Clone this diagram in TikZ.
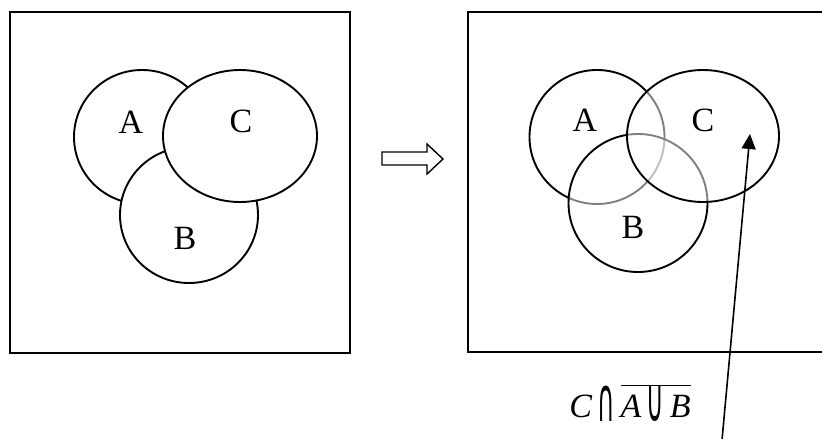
\documentclass[tikz,border=0pt]{standalone}
\usepackage{fontspec}
\setmainfont{Liberation Serif}
\newfontfamily\opfont{DejaVu Sans}
\usepackage{tikz}
\usetikzlibrary{shapes.geometric,arrows.meta}
\tikzset{
    setshape/.style={
        ellipse, draw, fill=white,
        inner sep=0pt, line width=1.9pt
    },
    setlabel/.style={
        font=\fontsize{34}{40}\selectfont, inner sep=0pt
    },
    frame/.style={
        draw, line width=1.8pt
    }
}
\newcommand{\tallcap}{\mathbin{\raisebox{-4pt}{\scalebox{0.7}[1.8]{\opfont ∩}}}}
\newcommand{\tallcup}{\mathbin{\raisebox{-4pt}{\scalebox{0.7}[1.8]{\opfont ∪}}}}

\begin{document}
\begin{tikzpicture}[x=1pt, y=-1pt]
    \useasboundingbox (0,0) rectangle (822,439);
    % Frames
    \draw[frame] (10,12) rectangle (350,353);
    \draw[frame] (468,12) rectangle (830,352);
    % Left diagram: sets drawn over one another
    \node[setshape, minimum width=136pt, minimum height=134pt] (la) at (142,137) {};
    \node[setshape, minimum width=138pt, minimum height=136pt] (lb) at (189,215) {};
    \node[setshape, minimum width=154pt, minimum height=132pt] (lc) at (240,136) {};
    \node[setlabel] (lA) at (131,122) {A};
    \node[setlabel] (lC) at (241,121) {C};
    \node[setlabel] (lB) at (185,238) {B};
    % Hollow arrow
    \draw[line width=1.4pt, line join=miter]
        (382,152) -- (427,152) -- (427,144) -- (443,159) -- (427,174)
        -- (427,165) -- (382,165) -- cycle;
    % Right diagram: see-through sets
    \node[setshape, minimum width=135pt, minimum height=134pt] (ra) at (597,137) {};
    \node[setshape, fill opacity=0.5, minimum width=139pt, minimum height=138pt] (rb) at (638,203) {};
    \node[setshape, fill opacity=0.5, minimum width=152pt, minimum height=132pt] (rc) at (703,136) {};
    \node[setlabel] (rA) at (585,120) {A};
    \node[setlabel] (rC) at (703,120) {C};
    \node[setlabel] (rB) at (633,227) {B};
    % Pointer
    \coordinate (ptrfoot) at (722,440);
    \coordinate (ptrtip) at (750,134);
    \draw[line width=1.6pt, -{Triangle[length=15pt, width=14pt]}] (ptrfoot) -- (ptrtip);
    \node[setlabel] (expr) at (630,403) {$\mathit{C}\tallcap\overline{\mathit{A}\tallcup\mathit{B}}$};
\end{tikzpicture}
\end{document}
